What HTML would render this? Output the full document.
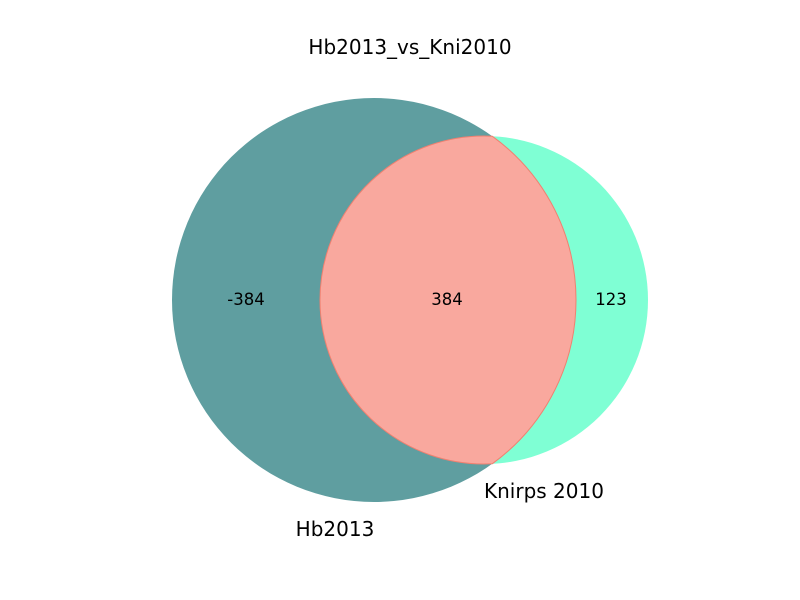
<!DOCTYPE html>
<html><head><meta charset="utf-8"><style>
html,body{margin:0;padding:0;background:#fff;}
svg{display:block;font-family:"DejaVu Sans","Liberation Sans",sans-serif;}
</style></head><body>
<svg id="chart" width="800" height="600" viewBox="0 0 800 600">
<text x="410" y="54" text-anchor="middle" font-size="20" fill="#000">Hb2013_vs_Kni2010</text>
<g id="marks"></g>
</svg>
<script>
const subsetLabels = ["-384", "384", "123"];
const subsetValues = [-384, 384, 123];
const setNames = ["Hb2013", "Knirps 2010"];
const setColors = ["#5f9ea0", "#7fffd4"];

const NS = "http://www.w3.org/2000/svg";
const g = document.getElementById("marks");
const A = {cx: 374, cy: 300, r: 202};
const B = {cx: 484, cy: 300, r: 164};
function mk(t, attrs){ const e = document.createElementNS(NS, t); for (const k in attrs) e.setAttribute(k, attrs[k]); g.appendChild(e); return e; }

const ca = mk("circle", {cx: A.cx, cy: A.cy, r: A.r, fill: setColors[0]});


const cb = mk("circle", {cx: B.cx, cy: B.cy, r: B.r, fill: setColors[1]});



const d = B.cx - A.cx;
const ix = A.cx + (d*d + A.r*A.r - B.r*B.r) / (2*d);
const iy = Math.sqrt(A.r*A.r - (ix - A.cx)*(ix - A.cx));
const lens = mk("path", {
  d: `M${ix},${A.cy-iy} A${B.r},${B.r} 0 1 0 ${ix},${A.cy+iy} A${A.r},${A.r} 0 0 0 ${ix},${A.cy-iy} Z`,
  fill: "#f9a89e", stroke: "#f08070", "stroke-width": 1
});



const labelPos = [[246, 299], [447, 299], [611, 299]];
const labelNames = ['label-hb2013-only', 'label-intersection', 'label-knirps-only'];
subsetLabels.forEach((s, i) => {
  const t = mk("text", {x: labelPos[i][0], y: labelPos[i][1] + 6, "text-anchor": "middle", "font-size": 16.5, fill: "#000"});
  t.textContent = s;
  
  
});

const setPos = [[335, 536], [544, 498]];
const setNameIds = ['set-label-hb2013', 'set-label-knirps-2010'];
setNames.forEach((s, i) => {
  const t = mk("text", {x: setPos[i][0], y: setPos[i][1], "text-anchor": "middle", "font-size": 20, fill: "#000"});
  t.textContent = s;
  
  
});
</script>
</body></html>
